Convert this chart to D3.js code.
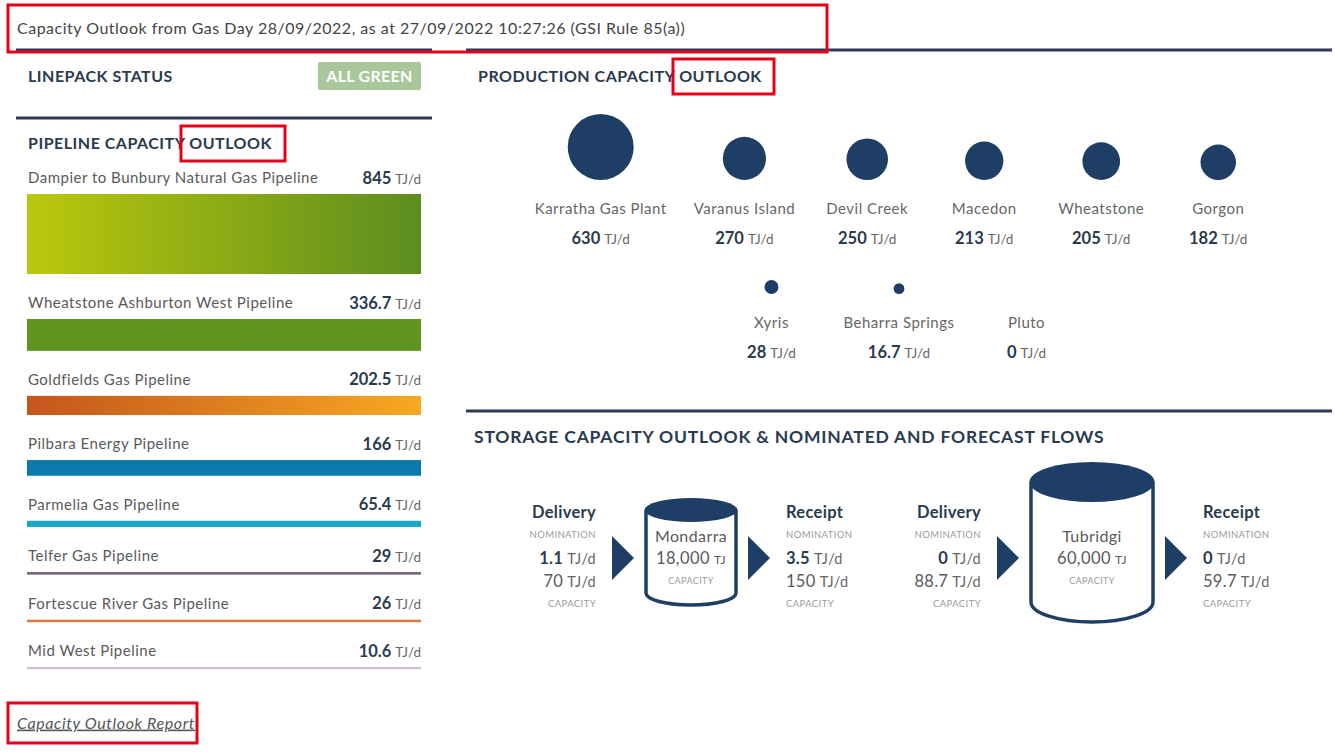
<!DOCTYPE html>
<html>
<head>
<meta charset="utf-8">
<script src="https://cdn.jsdelivr.net/npm/d3@7"></script>
<style>
  body { margin: 0; background: #fff; }
  svg { display: block; font-family: Lato, "Open Sans", sans-serif; }
</style>
</head>
<body>
<svg id="chart" width="1335" height="753"></svg>
<script>
// values
const headerText = "Capacity Outlook from Gas Day 28/09/2022, as at 27/09/2022 10:27:26 (GSI Rule 85(a))";
const linepackStatus = "ALL GREEN";

const pipelineNames = [
  "Dampier to Bunbury Natural Gas Pipeline",
  "Wheatstone Ashburton West Pipeline",
  "Goldfields Gas Pipeline",
  "Pilbara Energy Pipeline",
  "Parmelia Gas Pipeline",
  "Telfer Gas Pipeline",
  "Fortescue River Gas Pipeline",
  "Mid West Pipeline"
];
const pipelineCapacity = [845, 336.7, 202.5, 166, 65.4, 29, 26, 10.6];

const plantNames = ["Karratha Gas Plant", "Varanus Island", "Devil Creek", "Macedon", "Wheatstone", "Gorgon", "Xyris", "Beharra Springs", "Pluto"];
const plantCapacity = [630, 270, 250, 213, 205, 182, 28, 16.7, 0];

const storageNames = ["Mondarra", "Tubridgi"];
const storageCapacity = [18000, 60000];
const deliveryNomination = [1.1, 0];
const deliveryCapacity = [70, 88.7];
const receiptNomination = [3.5, 0];
const receiptCapacity = [150, 59.7];

// colours for the pipeline bars (start, end of gradient)
const pipelineColors = [
  ["#bcc80c", "#5b8d1f"], ["#5f941f", "#5f941f"], ["#c4561c", "#f8a822"], ["#0b79ad", "#0b79ad"],
  ["#18a7c8", "#18a7c8"], ["#766b82", "#766b82"], ["#d37b40", "#d37b40"], ["#cdbad4", "#cdbad4"]
];

const navy = "#1f3e66";
const heading = "#2a3a4f";
const grey = "#5a5a5a";
const light = "#9a9a9a";

const svg = d3.select("#chart");
const fmt = d3.format(",");

// header + rules
svg.append("text").attr("x", 17).attr("y", 28).attr("dy", "0.35em")
  .attr("font-size", 16).attr("letter-spacing", 0.5).attr("fill", "#444").text(headerText);

function rule(x1, x2, y) {
  svg.append("line").attr("x1", x1).attr("x2", x2).attr("y1", y).attr("y2", y)
    .attr("stroke", "#2c3d55").attr("stroke-width", 3);
}
rule(16, 432, 50);
rule(466, 1332, 50);
rule(16, 432, 118);
rule(466, 1332, 411);

function title(x, y, txt, size, ls) {
  svg.append("text").attr("x", x).attr("y", y).attr("dy", "0.35em")
    .attr("font-size", size).attr("letter-spacing", ls).attr("font-weight", 700).attr("fill", heading).text(txt);
}

// number + unit on a shared baseline
function valueText(sel, val, size, unitSize, bold, col) {
  sel.append("tspan").attr("font-size", size).attr("font-weight", bold ? 700 : 400)
    .attr("fill", col).text(val);
  sel.append("tspan").attr("font-size", unitSize).attr("font-weight", 400)
    .attr("fill", "#666").attr("dx", 4).text("TJ/d");
}

// linepack status
title(28, 76, "LINEPACK STATUS", 16, 0.5);
svg.append("rect").attr("x", 318).attr("y", 62).attr("width", 103).attr("height", 28).attr("rx", 2)
  .attr("fill", "#a8c79a");
svg.append("text").attr("x", 369.5).attr("y", 76.5).attr("text-anchor", "middle").attr("dy", "0.35em")
  .attr("font-size", 16).attr("font-weight", 700).attr("letter-spacing", 0.3).attr("fill", "#fff").text(linepackStatus);

// pipeline capacity outlook
title(28, 143, "PIPELINE CAPACITY OUTLOOK", 16, 0.5);

let hScale = d3.scaleLinear().domain([0, d3.max(pipelineCapacity)]).range([0, 80]);
let xBar = d3.scaleLinear().domain([0, 1]).range([27, 421]);

let defs = svg.append("defs");
pipelineColors.forEach((c, i) => {
  let g = defs.append("linearGradient").attr("id", "pg" + i);
  g.append("stop").attr("offset", "0%").attr("stop-color", c[0]);
  g.append("stop").attr("offset", "100%").attr("stop-color", c[1]);
});

let rows = [];
let yCur = 178;
pipelineCapacity.forEach((v, i) => {
  let h = Math.max(2, hScale(v));
  rows.push({ name: pipelineNames[i], value: v, y: yCur, barY: yCur + 16, h: h, i: i });
  yCur = yCur + 16 + h + 29;
});

let pg = svg.append("g").selectAll("g").data(rows).join("g");
pg.append("text").attr("x", 28).attr("y", d => d.y).attr("dy", "0.35em")
  .attr("font-size", 15).attr("letter-spacing", 0.5).attr("fill", grey).text(d => d.name);
pg.append("text").attr("x", 421).attr("y", d => d.y).attr("text-anchor", "end").attr("dy", "0.35em")
  .each(function (d) { valueText(d3.select(this), fmt(d.value), 16.5, 13.5, true, heading); });
pg.append("rect").attr("x", xBar(0)).attr("width", xBar(1) - xBar(0))
  .attr("y", d => d.barY).attr("height", d => d.h)
  .attr("fill", d => "url(#pg" + d.i + ")");

// production capacity outlook
title(478, 76, "PRODUCTION CAPACITY OUTLOOK", 16, 0.5);

let rScale = d3.scaleSqrt().domain([0, d3.max(plantCapacity)]).range([0, 33]);
let plants = plantNames.map((n, i) => ({ name: n, value: plantCapacity[i], row: i < 6 ? 0 : 1 }));
let rowBase = [180, 294];
let rowName = [209, 323];
let rowVal = [238, 352];

let prod = svg.append("g");
let items = prod.selectAll("g").data(plants).join("g");
items.append("text").attr("class", "pname").attr("text-anchor", "middle").attr("dy", "0.35em")
  .attr("font-size", 15).attr("letter-spacing", 0.5).attr("fill", "#666")
  .attr("y", d => rowName[d.row]).text(d => d.name);
// flex-like row layout, centred in the right panel
[0, 1].forEach(r => {
  let sel = items.filter(d => d.row === r);
  let widths = [];
  sel.select(".pname").each(function () { widths.push(Math.max(90, this.getComputedTextLength())); });
  let total = d3.sum(widths) + 27 * (widths.length - 1);
  let x = 899 - total / 2;
  sel.each(function (d, i) { d.cx = x + widths[i] / 2; x += widths[i] + 27; });
});
items.select(".pname").attr("x", d => d.cx);
items.append("circle").attr("cx", d => d.cx).attr("cy", d => rowBase[d.row] - rScale(d.value))
  .attr("r", d => rScale(d.value)).attr("fill", navy);
items.append("text").attr("x", d => d.cx).attr("y", d => rowVal[d.row])
  .attr("text-anchor", "middle").attr("dy", "0.35em")
  .each(function (d) { valueText(d3.select(this), fmt(d.value), 16.5, 13.5, true, heading); });

// storage
title(474, 437, "STORAGE CAPACITY OUTLOOK & NOMINATED AND FORECAST FLOWS", 17.5, 0.8);

let xStore = d3.scalePoint().domain(storageNames).range([691, 1092]);
let rxScale = d3.scaleLinear().domain([18000, 60000]).range([45, 61]);
let ryScale = d3.scaleLinear().domain([18000, 60000]).range([12, 20]);
let topScale = d3.scaleLinear().domain([18000, 60000]).range([48, 76]);
let botScale = d3.scaleLinear().domain([18000, 60000]).range([35, 44]);
let midY = 558;

let stores = storageNames.map((n, i) => ({
  name: n, cap: storageCapacity[i],
  dn: deliveryNomination[i], dc: deliveryCapacity[i],
  rn: receiptNomination[i], rc: receiptCapacity[i]
}));

let sg = svg.append("g").selectAll("g").data(stores).join("g");

function flowBlock(sel, side) {
  sel.each(function (d) {
    let g = d3.select(this);
    let cx = xStore(d.name), rx = rxScale(d.cap);
    let x = side === "in" ? cx - rx - 12 - 22 - 16 : cx + rx + 12 + 22 + 16;
    let anchor = side === "in" ? "end" : "start";
    let nom = side === "in" ? d.dn : d.rn;
    let cap = side === "in" ? d.dc : d.rc;
    let t = (y, size, ls) => g.append("text").attr("x", x).attr("y", y)
      .attr("text-anchor", anchor).attr("dy", "0.35em").attr("font-size", size).attr("letter-spacing", ls);
    t(512, 16.5, 0.3).attr("font-weight", 700).attr("fill", heading).text(side === "in" ? "Delivery" : "Receipt");
    t(535, 9.5, 0.4).attr("fill", light).text("NOMINATION");
    valueText(t(558, 16.5, 0.3), fmt(nom), 16.5, 14.5, true, heading);
    valueText(t(581, 16.5, 0.3), fmt(cap), 16.5, 14.5, false, grey);
    t(604, 9.5, 0.4).attr("fill", light).text("CAPACITY");
    // arrow
    let ax = side === "in" ? cx - rx - 12 - 22 : cx + rx + 12;
    g.append("path").attr("d", `M${ax},${midY - 22} L${ax + 22},${midY} L${ax},${midY + 22} Z`).attr("fill", navy);
  });
}
flowBlock(sg, "in");
flowBlock(sg, "out");

sg.each(function (d) {
  let g = d3.select(this);
  let cx = xStore(d.name), rx = rxScale(d.cap), ry = ryScale(d.cap);
  let bot = midY + botScale(d.cap), top = midY - topScale(d.cap);
  g.append("path")
    .attr("d", `M${cx - rx},${top} L${cx - rx},${bot} A${rx},${ry} 0 0 0 ${cx + rx},${bot} L${cx + rx},${top}`)
    .attr("fill", "#fff").attr("stroke", navy).attr("stroke-width", 3.5);
  g.append("ellipse").attr("cx", cx).attr("cy", top).attr("rx", rx + 1.5).attr("ry", ry).attr("fill", navy);
  let ct = (y, size) => g.append("text").attr("x", cx).attr("y", y).attr("text-anchor", "middle")
    .attr("dy", "0.35em").attr("font-size", size).attr("letter-spacing", 0.4).attr("fill", grey);
  ct(midY - 22, 16).text(d.name);
  let v = ct(midY, 16.5);
  v.append("tspan").text(fmt(d.cap));
  v.append("tspan").attr("font-size", 12).attr("dx", 4).text("TJ");
  ct(midY + 23, 9).attr("fill", light).text("CAPACITY");
});

// report link
svg.append("text").attr("x", 17).attr("y", 723).attr("dy", "0.35em")
  .attr("font-size", 16).attr("letter-spacing", 0.6).attr("font-style", "italic").attr("fill", "#555")
  .attr("text-decoration", "underline").text("Capacity Outlook Report");

// red annotation boxes
const boxes = [[8, 5, 819, 47], [181, 126, 104, 35], [673, 59, 101, 35], [8, 703, 189, 40]];
svg.append("g").selectAll("rect").data(boxes).join("rect")
  .attr("x", d => d[0]).attr("y", d => d[1]).attr("width", d => d[2]).attr("height", d => d[3])
  .attr("fill", "none").attr("stroke", "#e5001a").attr("stroke-width", 3);
</script>
</body>
</html>
